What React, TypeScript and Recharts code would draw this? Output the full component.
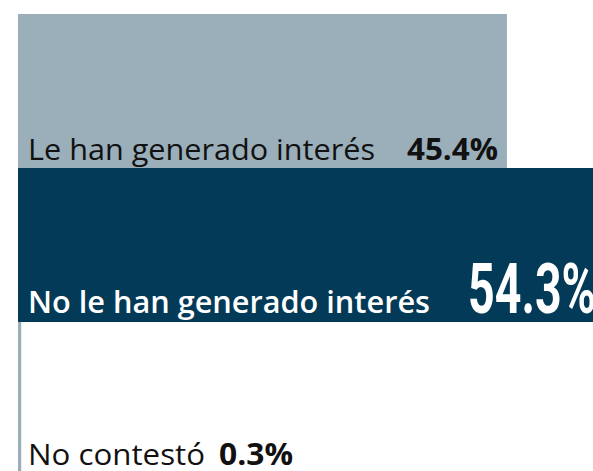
import React from 'react';
import { BarChart, Bar, XAxis, YAxis, Cell, LabelList } from 'recharts';

const categories = ['Le han generado interés', 'No le han generado interés', 'No contestó'];
const values = [45.4, 54.3, 0.3];
const valueLabels = ['45.4%', '54.3%', '0.3%'];

const barColors = ['#9aafba', '#023a57', '#9aafba'];

// per-row text styling (name + value)
const labelStyles = [
    { nameColor: '#111', nameWeight: 400, nameW: 347, valueColor: '#111', valueX: 389, valueW: 91, valueSize: 30, valueFont: 'Open Sans', dy: -8 },
    { nameColor: '#fff', nameWeight: 600, nameW: 402, valueColor: '#fff', valueX: 450, valueW: 128, valueSize: 71, valueFont: 'Roboto', dy: -9 },
    { nameColor: '#111', nameWeight: 400, nameW: 177, valueColor: '#111', valueX: 201, valueW: 74, valueSize: 30, valueFont: 'Open Sans', dy: -11 },
];

const data = categories.map((name, i) => ({ name, value: values[i], label: valueLabels[i] }));

const RowLabel = (props: any) => {
    const { x, y, height, index } = props;
    const s = labelStyles[index];
    if (!s) return null;
    const base = y + height + s.dy;
    return (
        <g>
            <text
                x={x + 10}
                y={base}
                fill={s.nameColor}
                fontFamily="'Open Sans', sans-serif"
                fontSize={30}
                fontWeight={s.nameWeight}
                textLength={s.nameW}
                lengthAdjust="spacingAndGlyphs"
            >
                {categories[index]}
            </text>
            <text
                x={x + s.valueX}
                y={base}
                fill={s.valueColor}
                fontFamily={`'${s.valueFont}', sans-serif`}
                fontSize={s.valueSize}
                fontWeight={700}
                textLength={s.valueW}
                lengthAdjust="spacingAndGlyphs"
            >
                {valueLabels[index]}
            </text>
        </g>
    );
};

export default function App() {
    return (
        <div style={{ position: 'absolute', left: 0, top: 0, width: 593, height: 471, overflow: 'hidden', background: '#fff' }}>
            <BarChart
                layout="vertical"
                width={1095}
                height={476}
                data={data}
                margin={{ top: 14, right: 0, left: 18, bottom: 0 }}
                barCategoryGap={0}
            >
                <XAxis type="number" domain={[0, 100]} hide />
                <YAxis type="category" dataKey="name" hide />
                <Bar dataKey="value" isAnimationActive={false}>
                    {data.map((d, i) => (
                        <Cell key={d.name} fill={barColors[i]} />
                    ))}
                    <LabelList dataKey="label" content={RowLabel} />
                </Bar>
            </BarChart>
        </div>
    );
}
